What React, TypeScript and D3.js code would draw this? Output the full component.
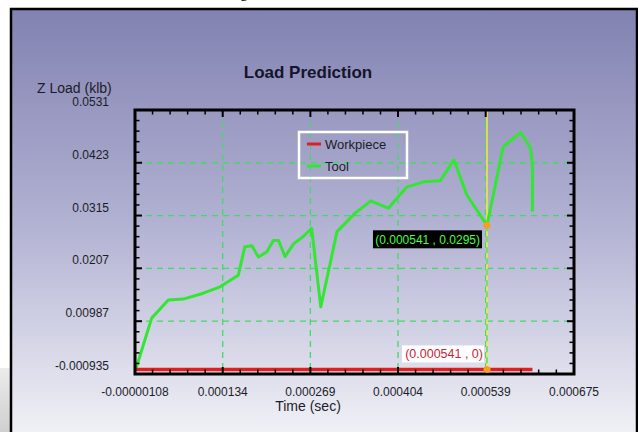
import React from 'react';
import * as d3 from 'd3';

// values
const xTicks = [-0.00000108, 0.000134, 0.000269, 0.000404, 0.000539, 0.000675];
const xTickLabels = ['-0.00000108', '0.000134', '0.000269', '0.000404', '0.000539', '0.000675'];
const yTicks = [-0.000935, 0.00987, 0.0207, 0.0315, 0.0423, 0.0531];
const yTickLabels = ['-0.000935', '0.00987', '0.0207', '0.0315', '0.0423', '0.0531'];

const toolTime = [
  0, 0.0000246, 0.0000502, 0.0000733, 0.000104, 0.00013, 0.000158, 0.000168, 0.000179,
  0.000189, 0.000202, 0.000212, 0.00022, 0.00023, 0.000243, 0.000258, 0.000271, 0.000285,
  0.00031, 0.000338, 0.000362, 0.000389, 0.000417, 0.000443, 0.000469, 0.00049, 0.00051,
  0.000541, 0.000566, 0.000593, 0.000608, 0.000611, 0.000611,
];
const toolLoad = [
  0, 0.0105, 0.0142, 0.0144, 0.0156, 0.0169, 0.0193, 0.0251, 0.0253,
  0.023, 0.0241, 0.0264, 0.0264, 0.0231, 0.0257, 0.0272, 0.0289, 0.0128,
  0.0282, 0.032, 0.0345, 0.033, 0.0373, 0.0384, 0.0386, 0.0429, 0.0357,
  0.0295, 0.0456, 0.0485, 0.0453, 0.0418, 0.0323,
];
const workTime = [0, 0.000611];
const workLoad = [0, 0];

const cursorTime = 0.000541;
const cursorTool = 0.0295;
const cursorWork = 0;

const W = 638;
const H = 432;
const plot = { left: 135, top: 110, right: 574, bottom: 374 };
const font = '"Liberation Sans", Arial, sans-serif';

export default function App() {
  const x = d3.scaleLinear().domain([xTicks[0], xTicks[xTicks.length - 1]]).range([plot.left, plot.right]);
  const y = d3.scaleLinear().domain([yTicks[0], yTicks[yTicks.length - 1]]).range([plot.bottom, plot.top]);

  const line = d3.line<[number, number]>().x(d => x(d[0])).y(d => y(d[1]));
  const toolPath = line(toolTime.map((t, i) => [t, toolLoad[i]]));
  const workPath = line(workTime.map((t, i) => [t, workLoad[i]]));

  // minor ticks, 5 per major interval
  const minorX: number[] = [];
  for (let i = 0; i < xTicks.length - 1; i++) {
    const a = x(xTicks[i]), b = x(xTicks[i + 1]);
    for (let k = 1; k < 5; k++) minorX.push(a + ((b - a) * k) / 5);
  }
  const minorY: number[] = [];
  for (let i = 0; i < yTicks.length - 1; i++) {
    const a = y(yTicks[i]), b = y(yTicks[i + 1]);
    for (let k = 1; k < 5; k++) minorY.push(a + ((b - a) * k) / 5);
  }

  const cx = x(cursorTime);
  const cyTool = y(cursorTool);
  const cyWork = y(cursorWork);
  const green = '#33e633';
  const grid = '#44d966';

  return (
    <svg width={W} height={H} style={{ position: 'absolute', left: 0, top: 0 }} fontFamily={font}>
      <defs>
        <linearGradient id="bg" x1="0" y1="0" x2="0" y2="1">
          <stop offset="0" stopColor="#8282b2" />
          <stop offset="0.5" stopColor="#b2b2d3" />
          <stop offset="1" stopColor="#f3f3f8" />
        </linearGradient>
        <linearGradient id="side" x1="0" y1="0" x2="0" y2="1">
          <stop offset="0" stopColor="#ececec" />
          <stop offset="1" stopColor="#cfcfcf" />
        </linearGradient>
      </defs>
      <rect width={W} height={H} fill="#ffffff" />
      <text x={240} y={-3} fontFamily="serif" fontSize={16}>g</text>
      <rect x={0} y={368} width={11} height={H - 368} fill="url(#side)" />
      <rect x={11} y={9} width={626} height={H} fill="url(#bg)" stroke="#000" strokeWidth={2.5} />

      {/* grid */}
      {xTicks.slice(1, -1).map((v, i) => (
        <line key={'gx' + i} x1={x(v)} x2={x(v)} y1={plot.top} y2={plot.bottom} stroke={grid} strokeWidth={1.3} strokeDasharray="6,5" />
      ))}
      {yTicks.slice(1, -1).map((v, i) => (
        <line key={'gy' + i} x1={plot.left} x2={plot.right} y1={y(v)} y2={y(v)} stroke={grid} strokeWidth={1.3} strokeDasharray="6,5" />
      ))}

      {/* cursor */}
      <line x1={cx} x2={cx} y1={plot.top} y2={plot.bottom} stroke="#f2ee3a" strokeWidth={1.5} />
      <line x1={cx} x2={cx} y1={cyTool} y2={plot.bottom} stroke={grid} strokeWidth={1.3} strokeDasharray="6,5" />

      {/* series */}
      <path d={toolPath ?? ''} fill="none" stroke={green} strokeWidth={3} strokeLinejoin="round" />
      <path d={workPath ?? ''} fill="none" stroke="#e02020" strokeWidth={3.5} />

      {/* axes frame */}
      <rect x={plot.left} y={plot.top} width={plot.right - plot.left} height={plot.bottom - plot.top} fill="none" stroke="#000" strokeWidth={3} />
      {xTicks.map((v, i) => (
        <g key={'xt' + i}>
          <line x1={x(v)} x2={x(v)} y1={plot.bottom} y2={plot.bottom - 7} stroke="#000" strokeWidth={2} />
          <line x1={x(v)} x2={x(v)} y1={plot.top} y2={plot.top + 7} stroke="#000" strokeWidth={2} />
        </g>
      ))}
      {minorX.map((p, i) => (
        <g key={'xm' + i}>
          <line x1={p} x2={p} y1={plot.bottom} y2={plot.bottom - 4.5} stroke="#000" strokeWidth={1.5} />
          <line x1={p} x2={p} y1={plot.top} y2={plot.top + 4.5} stroke="#000" strokeWidth={1.5} />
        </g>
      ))}
      {yTicks.map((v, i) => (
        <g key={'yt' + i}>
          <line x1={plot.left} x2={plot.left + 7} y1={y(v)} y2={y(v)} stroke="#000" strokeWidth={2} />
          <line x1={plot.right} x2={plot.right - 7} y1={y(v)} y2={y(v)} stroke="#000" strokeWidth={2} />
        </g>
      ))}
      {minorY.map((p, i) => (
        <g key={'ym' + i}>
          <line x1={plot.left} x2={plot.left + 4.5} y1={p} y2={p} stroke="#000" strokeWidth={1.5} />
          <line x1={plot.right} x2={plot.right - 4.5} y1={p} y2={p} stroke="#000" strokeWidth={1.5} />
        </g>
      ))}

      {/* cursor markers and readouts */}
      <circle cx={cx} cy={cyTool} r={3.5} fill="#f5a020" />
      <circle cx={cx} cy={cyWork} r={3.5} fill="#f5a020" />
      <rect x={cx - 114} y={cyTool + 5} width={109} height={18} fill="#000" />
      <text x={cx - 7} y={cyTool + 18.5} textAnchor="end" fontSize={12} fill="#44ff44">
        ({cursorTime} , {cursorTool})
      </text>
      <rect x={cx - 85} y={cyWork - 24} width={82} height={17} fill="#ffffff" />
      <text x={cx - 4} y={cyWork - 11} textAnchor="end" fontSize={12.5} fill="#cc2236">
        ({cursorTime} , {cursorWork})
      </text>

      {/* tick labels */}
      {xTicks.map((v, i) => (
        <text key={'xl' + i} x={x(v)} y={plot.bottom + 22} textAnchor="middle" fontSize={12} fill="#1c1c28">
          {xTickLabels[i]}
        </text>
      ))}
      {yTicks.map((v, i) => (
        <text key={'yl' + i} x={109} y={y(v) - 4} textAnchor="end" fontSize={12} fill="#1c1c28">
          {yTickLabels[i]}
        </text>
      ))}

      {/* titles */}
      <text x={308} y={78} textAnchor="middle" fontSize={17} fontWeight="bold" fill="#15152a">Load Prediction</text>
      <text x={37} y={93} fontSize={14} fill="#1c1c28">Z Load (klb)</text>
      <text x={308} y={411} textAnchor="middle" fontSize={14} fill="#1c1c28">Time (sec)</text>

      {/* legend */}
      <rect x={299} y={132} width={108} height={46} fill="none" stroke="#ffffff" strokeWidth={2.5} />
      <line x1={307} x2={321} y1={144} y2={144} stroke="#e02020" strokeWidth={3} />
      <text x={325} y={149} fontSize={13} fill="#1c1c28">Workpiece</text>
      <line x1={307} x2={321} y1={166} y2={166} stroke={green} strokeWidth={3} />
      <text x={325} y={171} fontSize={13} fill="#1c1c28">Tool</text>
    </svg>
  );
}
